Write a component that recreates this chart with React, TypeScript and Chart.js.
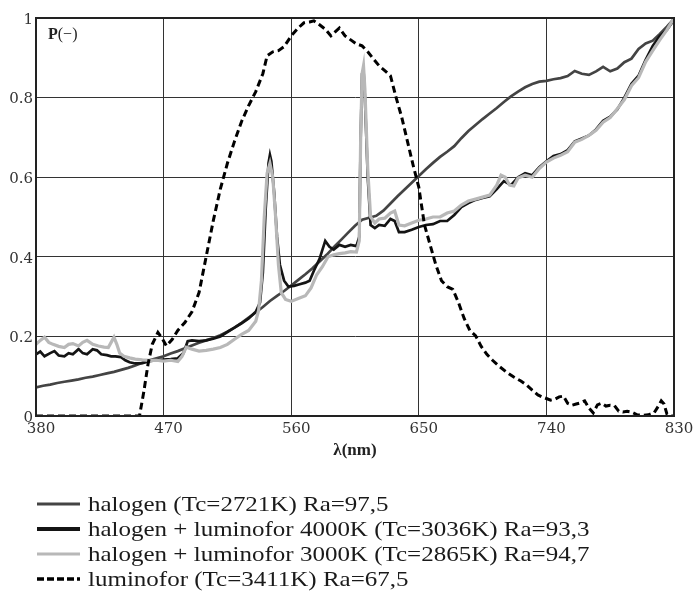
import React, { useEffect, useRef } from "react";
import { Chart, registerables } from "chart.js";

Chart.register(...registerables);

// ---- axis ticks ----
const xTickValues = [380, 470, 560, 650, 740, 830];
const yTickValues = [0, 0.2, 0.4, 0.6, 0.8, 1];

// ---- series labels ----
const seriesLabels = [
  "halogen (Tc=2721K) Ra=97,5",
  "halogen + luminofor 4000K (Tc=3036K) Ra=93,3",
  "halogen + luminofor 3000K (Tc=2865K) Ra=94,7",
  "luminofor (Tc=3411K) Ra=67,5",
];

// ---- halogen ----
const halogenWl = [
  380, 385, 390, 395, 400, 405, 410, 415, 420, 425, 430, 435, 440, 445, 450, 455, 460, 465, 470, 475,
  480, 485, 490, 495, 500, 505, 510, 515, 520, 525, 530, 535, 540, 545, 550, 555, 560, 565, 570, 575,
  580, 585, 590, 595, 600, 605, 610, 615, 620, 625, 630, 635, 640, 645, 650, 655, 660, 665, 670, 675,
  680, 685, 690, 695, 700, 705, 710, 715, 720, 725, 730, 735, 740, 745, 750, 755, 760, 765, 770, 775,
  780, 785, 790, 795, 800, 805, 810, 815, 820, 825, 830,
];
const halogenP = [
  0.072, 0.076, 0.079, 0.083, 0.086, 0.089, 0.092, 0.096, 0.099, 0.103, 0.107, 0.111, 0.116, 0.121, 0.127, 0.134, 0.14, 0.145, 0.15, 0.157,
  0.163, 0.17, 0.177, 0.184, 0.19, 0.196, 0.203, 0.212, 0.222, 0.234, 0.247, 0.26, 0.274, 0.289, 0.302, 0.314, 0.328, 0.342, 0.356, 0.371,
  0.388, 0.405, 0.424, 0.442, 0.46, 0.478, 0.493, 0.498, 0.503, 0.516, 0.534, 0.552, 0.569, 0.586, 0.603, 0.62, 0.636, 0.651, 0.664, 0.678,
  0.698, 0.716, 0.731, 0.746, 0.76, 0.774, 0.789, 0.803, 0.815, 0.826, 0.834, 0.84, 0.842, 0.846, 0.849, 0.854, 0.867, 0.86, 0.857, 0.866,
  0.877, 0.866, 0.873, 0.889, 0.898, 0.922, 0.936, 0.943, 0.96, 0.978, 0.998,
];

// ---- halogen + luminofor 4000K ----
const lum4000Wl = [
  380, 383, 386, 390, 393, 396, 400, 403, 406, 410, 413, 416, 420, 423, 426, 430, 433, 436, 440, 443,
  446, 450, 455, 460, 465, 470, 475, 480, 484, 487, 490, 495, 500, 505, 510, 515, 520, 525, 530, 535,
  538, 540, 542, 544, 545, 546, 548, 550, 552, 555, 558, 562, 566, 570, 573, 576, 580, 584, 587, 590,
  594, 598, 602, 606, 608, 609, 610, 611, 612, 614, 616, 619, 622, 626, 630, 633, 636, 640, 645, 650,
  655, 660, 665, 670, 675, 680, 685, 690, 695, 700, 705, 710, 715, 720, 725, 730, 735, 740, 745, 750,
  755, 760, 765, 770, 775, 780, 785, 790, 795, 800, 805, 810, 815, 820, 825, 830,
];
const lum4000P = [
  0.155, 0.162, 0.15, 0.158, 0.163, 0.152, 0.15, 0.158, 0.155, 0.168, 0.158, 0.155, 0.168, 0.165, 0.155, 0.153, 0.15, 0.15, 0.148, 0.14,
  0.135, 0.132, 0.133, 0.138, 0.14, 0.142, 0.143, 0.145, 0.158, 0.188, 0.19, 0.188, 0.19, 0.194, 0.2, 0.211, 0.222, 0.233, 0.245, 0.262,
  0.285, 0.36, 0.52, 0.635, 0.656, 0.64, 0.56, 0.45, 0.38, 0.34, 0.325, 0.327, 0.331, 0.335, 0.34, 0.365, 0.395, 0.44, 0.425, 0.418,
  0.43, 0.425, 0.43, 0.427, 0.45, 0.7, 0.86, 0.87, 0.8, 0.6, 0.48, 0.472, 0.48, 0.478, 0.495, 0.49, 0.462, 0.462, 0.468, 0.475,
  0.48, 0.482, 0.49, 0.49, 0.505, 0.525, 0.535, 0.543, 0.548, 0.552, 0.57, 0.59, 0.58, 0.6, 0.61, 0.605, 0.625, 0.64, 0.653, 0.658,
  0.668, 0.69, 0.697, 0.705, 0.72, 0.742, 0.752, 0.77, 0.8, 0.835, 0.855, 0.895, 0.93, 0.955, 0.97, 0.995,
];

// ---- halogen + luminofor 3000K ----
const lum3000Wl = [
  380, 383, 386, 389, 392, 396, 400, 403, 406, 410, 413, 416, 420, 424, 428, 431, 433, 435, 437, 439,
  442, 446, 450, 455, 460, 465, 470, 475, 480, 483, 486, 490, 495, 500, 505, 510, 515, 520, 525, 530,
  535, 537, 539, 541, 543, 545, 547, 549, 551, 553, 556, 560, 565, 570, 574, 578, 582, 586, 590, 594,
  598, 602, 606, 608, 609, 610, 611, 612, 614, 616, 619, 622, 626, 630, 633, 636, 640, 645, 650, 655,
  660, 665, 670, 675, 680, 685, 690, 695, 700, 705, 708, 711, 714, 717, 720, 725, 730, 735, 740, 745,
  750, 755, 760, 765, 770, 775, 780, 785, 790, 795, 800, 805, 810, 815, 820, 825, 830,
];
const lum3000P = [
  0.18, 0.19, 0.198, 0.185, 0.18, 0.175, 0.172, 0.18, 0.182, 0.176, 0.185, 0.19, 0.18, 0.176, 0.173, 0.172, 0.185, 0.198, 0.18, 0.158,
  0.15, 0.146, 0.143, 0.141, 0.14, 0.14, 0.138, 0.14, 0.137, 0.15, 0.173, 0.168, 0.163, 0.165, 0.168, 0.172, 0.18, 0.193, 0.205, 0.215,
  0.238, 0.265, 0.34, 0.5, 0.61, 0.635, 0.6, 0.5, 0.38, 0.31, 0.293, 0.288, 0.295, 0.302, 0.322, 0.355, 0.375, 0.4, 0.405, 0.408,
  0.41, 0.413, 0.412, 0.44, 0.7, 0.86, 0.88, 0.82, 0.62, 0.5, 0.485, 0.495, 0.497, 0.51, 0.515, 0.48, 0.478, 0.485, 0.492, 0.495,
  0.5, 0.5, 0.51, 0.515, 0.53, 0.54, 0.545, 0.55, 0.555, 0.58, 0.605, 0.6, 0.58, 0.578, 0.598, 0.605, 0.6, 0.622, 0.638, 0.648,
  0.655, 0.664, 0.688, 0.695, 0.705, 0.718, 0.738, 0.75, 0.772, 0.795, 0.83, 0.85, 0.89, 0.918, 0.945, 0.97, 1.0,
];

// ---- luminofor ----
const luminoforWl = [
  380, 390, 400, 410, 420, 430, 440, 450, 453, 456, 459, 462, 466, 469, 472, 476, 480, 485, 490, 495,
  500, 505, 510, 515, 520, 525, 530, 535, 540, 543, 547, 551, 555, 560, 565, 569, 573, 576, 580, 584,
  588, 591, 594, 598, 602, 606, 610, 614, 618, 622, 626, 630, 634, 638, 642, 646, 650, 654, 658, 662,
  666, 670, 674, 678, 682, 686, 690, 694, 698, 702, 707, 712, 717, 722, 726, 730, 734, 737, 740, 743,
  746, 749, 752, 755, 758, 761, 764, 767, 770, 773, 776, 779, 782, 785, 788, 791, 794, 797, 800, 804,
  808, 812, 816, 819, 821, 823, 825, 828, 830,
];
const luminoforP = [
  0, 0, 0, 0, 0, 0, 0, 0, 0, 0.06, 0.13, 0.18, 0.21, 0.195, 0.176, 0.192, 0.215, 0.235, 0.262, 0.31,
  0.4, 0.49, 0.57, 0.635, 0.69, 0.74, 0.78, 0.815, 0.86, 0.905, 0.915, 0.918, 0.928, 0.955, 0.975, 0.988, 0.99, 0.993, 0.983, 0.972,
  0.955, 0.965, 0.975, 0.955, 0.945, 0.935, 0.93, 0.915, 0.897, 0.88, 0.868, 0.855, 0.8, 0.75, 0.69, 0.63, 0.575, 0.48, 0.43, 0.38,
  0.34, 0.325, 0.318, 0.285, 0.245, 0.215, 0.202, 0.175, 0.155, 0.14, 0.124, 0.11, 0.098, 0.088, 0.078, 0.065, 0.053, 0.048, 0.044, 0.04,
  0.042, 0.048, 0.05, 0.032, 0.027, 0.03, 0.033, 0.038, 0.02, 0.008, 0.028, 0.032, 0.025, 0.027, 0.026, 0.012, 0.01, 0.012, 0.01, 0.003,
  0.002, 0.003, 0.008, 0.025, 0.038, 0.03, 0.005, 0, 0,
];

const toPoints = (wl: number[], p: number[]) => wl.map((w, i) => ({ x: w, y: p[i] }));

const SERIF = '"Liberation Serif", "Times New Roman", serif';
const TICK_FONT = '"DejaVu Serif", serif';

const overlayPlugin = {
  id: "overlay",
  afterDraw(chart: any) {
    const { ctx, chartArea } = chart;
    ctx.save();
    // frame
    ctx.strokeStyle = "#222";
    ctx.lineWidth = 2;
    ctx.strokeRect(chartArea.left, chartArea.top, chartArea.right - chartArea.left, chartArea.bottom - chartArea.top);

    // y-axis label inside plot
    ctx.fillStyle = "#222";
    ctx.textBaseline = "middle";
    ctx.textAlign = "left";
    ctx.font = `bold 16px ${SERIF}`;
    ctx.fillText("P", 48, 35);
    const pw = ctx.measureText("P").width;
    ctx.font = `16px ${SERIF}`;
    ctx.fillText("(\u2212)", 48 + pw, 35);

    // x-axis title
    ctx.font = `bold 17px ${SERIF}`;
    ctx.textAlign = "center";
    ctx.fillText("\u03bb(nm)", (chartArea.left + chartArea.right) / 2, 451);

    // legend
    const rows = [504, 529, 554, 579];
    chart.data.datasets.forEach((ds: any, i: number) => {
      const y = rows[i];
      ctx.beginPath();
      ctx.strokeStyle = ds.borderColor;
      ctx.lineWidth = ds.legendWidth;
      ctx.setLineDash(ds.legendDash || []);
      ctx.moveTo(37, y);
      ctx.lineTo(80, y);
      ctx.stroke();
      ctx.setLineDash([]);
      ctx.save();
      ctx.translate(88, y + 1);
      ctx.scale(1.19, 1);
      ctx.font = `21px ${SERIF}`;
      ctx.textAlign = "left";
      ctx.textBaseline = "middle";
      ctx.fillStyle = "#1a1a1a";
      ctx.fillText(ds.label, 0, 0);
      ctx.restore();
    });
    ctx.restore();
  },
};

export default function App() {
  const canvasRef = useRef<HTMLCanvasElement | null>(null);

  useEffect(() => {
    document.body.style.margin = "0";
    const canvas = canvasRef.current;
    if (!canvas) return;
    const chart = new Chart(canvas, {
      type: "line",
      data: {
        datasets: [
          {
            label: seriesLabels[0],
            data: toPoints(halogenWl, halogenP),
            borderColor: "#444444",
            borderWidth: 2.7,
            order: 3,
            legendWidth: 3,
          } as any,
          {
            label: seriesLabels[1],
            data: toPoints(lum4000Wl, lum4000P),
            borderColor: "#141414",
            borderWidth: 2.7,
            order: 2,
            legendWidth: 4,
          } as any,
          {
            label: seriesLabels[2],
            data: toPoints(lum3000Wl, lum3000P),
            borderColor: "#b8b8b8",
            borderWidth: 3.2,
            order: 1,
            legendWidth: 3,
          } as any,
          {
            label: seriesLabels[3],
            data: toPoints(luminoforWl, luminoforP),
            borderColor: "#000000",
            borderWidth: 3,
            borderDash: [7, 4],
            order: 0,
            legendWidth: 3.5,
            legendDash: [7, 3],
          } as any,
        ],
      },
      options: {
        animation: false,
        responsive: false,
        devicePixelRatio: 1,
        parsing: true,
        elements: {
          point: { radius: 0 },
          line: { tension: 0, fill: false },
        },
        layout: { padding: { left: 0, top: 18, right: 20, bottom: 151 } },
        plugins: {
          legend: { display: false },
          tooltip: { enabled: false },
        },
        scales: {
          x: {
            type: "linear",
            min: 380,
            max: 830,
            afterBuildTicks: (scale: any) => {
              scale.ticks = xTickValues.map((v) => ({ value: v }));
            },
            afterFit: (scale: any) => {
              scale.height = 30;
            },
            ticks: {
              font: { family: TICK_FONT, size: 15 },
              color: "#333",
              padding: 4,
              labelOffset: 5,
              maxRotation: 0,
              autoSkip: false,
            },
            grid: { color: "#333", lineWidth: 1, drawTicks: false },
            border: { display: true, color: "#222", width: 2 },
          },
          y: {
            type: "linear",
            min: 0,
            max: 1,
            afterBuildTicks: (scale: any) => {
              scale.ticks = yTickValues.map((v) => ({ value: v }));
            },
            afterFit: (scale: any) => {
              scale.width = 36;
            },
            ticks: {
              font: { family: TICK_FONT, size: 15 },
              color: "#333",
              padding: 3,
              labelOffset: 2,
              autoSkip: false,
              callback: (v: any) => String(Math.round(Number(v) * 10) / 10),
            },
            grid: { color: "#333", lineWidth: 1, drawTicks: false },
            border: { display: true, color: "#222", width: 2 },
          },
        },
      } as any,
      plugins: [overlayPlugin],
    });
    return () => chart.destroy();
  }, []);

  return (
    <div style={{ width: 694, height: 597, position: "relative", background: "#fff" }}>
      <canvas ref={canvasRef} width={694} height={597} style={{ display: "block" }} />
    </div>
  );
}
